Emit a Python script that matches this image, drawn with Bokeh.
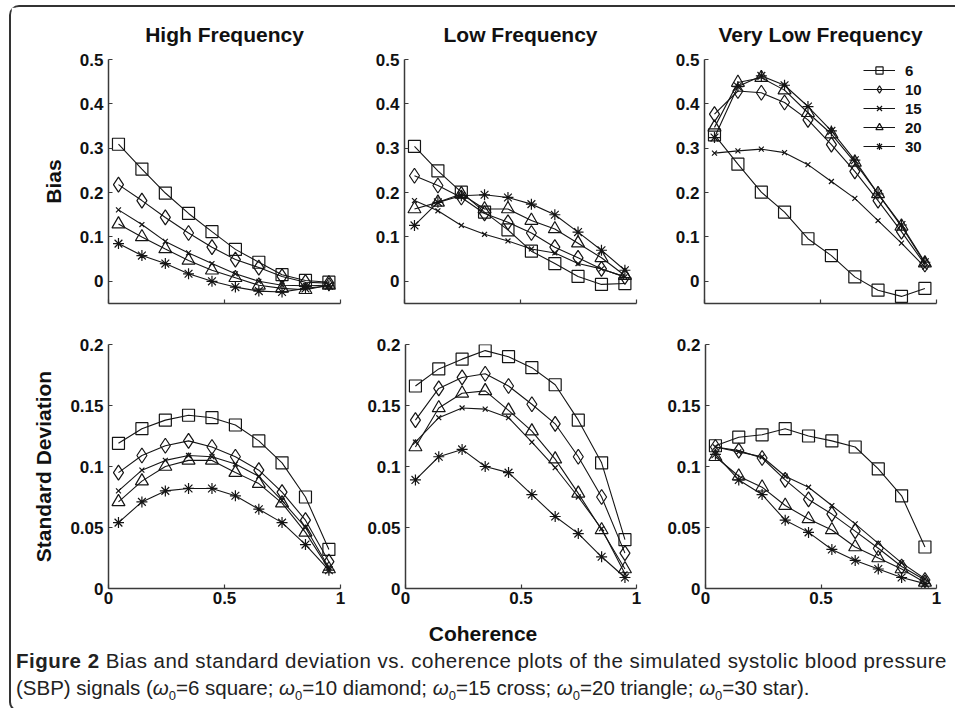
from bokeh.plotting import figure
from bokeh.models import FixedTicker, Div, Legend, LegendItem, Range1d
from bokeh.layouts import column, row
from bokeh.embed import file_html
from bokeh.resources import INLINE

# ---------------- data ----------------
coherence = [0.043, 0.144, 0.245, 0.345, 0.446, 0.547, 0.648, 0.748, 0.849, 0.95]
omegas = [6, 10, 15, 20, 30]
markers = ["square", "diamond", "x", "triangle", "asterisk"]

panel_titles = ["High Frequency", "Low Frequency", "Very Low Frequency"]
row_labels = ["Bias", "Standard Deviation"]
x_label = "Coherence"

x_ticks = [0, 0.5, 1]
x_tick_labels = ["0", "0.5", "1"]
bias_ticks = [0, 0.1, 0.2, 0.3, 0.4, 0.5]
bias_tick_labels = ["0", "0.1", "0.2", "0.3", "0.4", "0.5"]
sd_ticks = [0, 0.05, 0.1, 0.15, 0.2]
sd_tick_labels = ["0", "0.05", "0.1", "0.15", "0.2"]

hf_bias = {
    6:  [0.309, 0.253, 0.199, 0.153, 0.112, 0.072, 0.043, 0.015, 0.002, -0.002],
    10: [0.218, 0.182, 0.144, 0.109, 0.077, 0.049, 0.031, 0.011, -0.002, -0.004],
    15: [0.161, 0.128, 0.090, 0.064, 0.040, 0.017, 0.000, -0.009, -0.010, -0.009],
    20: [0.129, 0.100, 0.073, 0.047, 0.025, 0.008, -0.009, -0.016, -0.019, -0.009],
    30: [0.085, 0.058, 0.040, 0.017, 0.000, -0.013, -0.022, -0.024, -0.016, -0.010],
}
lf_bias = {
    6:  [0.304, 0.249, 0.201, 0.156, 0.116, 0.068, 0.040, 0.011, -0.007, -0.005],
    10: [0.238, 0.216, 0.189, 0.153, 0.133, 0.109, 0.077, 0.053, 0.028, 0.010],
    15: [0.182, 0.159, 0.126, 0.106, 0.091, 0.073, 0.064, 0.040, 0.028, 0.010],
    20: [0.163, 0.178, 0.197, 0.163, 0.163, 0.137, 0.118, 0.086, 0.053, 0.013],
    30: [0.126, 0.178, 0.193, 0.195, 0.189, 0.174, 0.150, 0.111, 0.070, 0.025],
}
vlf_bias = {
    6:  [0.330, 0.264, 0.201, 0.156, 0.096, 0.058, 0.010, -0.020, -0.034, -0.016],
    10: [0.377, 0.429, 0.425, 0.403, 0.364, 0.308, 0.248, 0.182, 0.112, 0.038],
    15: [0.289, 0.294, 0.298, 0.290, 0.263, 0.225, 0.187, 0.137, 0.086, 0.032],
    20: [0.347, 0.448, 0.459, 0.431, 0.380, 0.332, 0.268, 0.197, 0.124, 0.041],
    30: [0.324, 0.439, 0.463, 0.442, 0.394, 0.339, 0.273, 0.197, 0.127, 0.043],
}
hf_sd = {
    6:  [0.119, 0.131, 0.138, 0.142, 0.140, 0.134, 0.121, 0.103, 0.075, 0.032],
    10: [0.095, 0.109, 0.117, 0.121, 0.116, 0.108, 0.097, 0.079, 0.056, 0.022],
    15: [0.080, 0.097, 0.105, 0.109, 0.108, 0.102, 0.092, 0.072, 0.050, 0.017],
    20: [0.071, 0.088, 0.100, 0.105, 0.105, 0.095, 0.086, 0.070, 0.046, 0.016],
    30: [0.054, 0.071, 0.080, 0.082, 0.082, 0.076, 0.065, 0.054, 0.036, 0.015],
}
lf_sd = {
    6:  [0.166, 0.180, 0.188, 0.195, 0.190, 0.181, 0.167, 0.138, 0.103, 0.040],
    10: [0.138, 0.164, 0.173, 0.176, 0.166, 0.151, 0.135, 0.108, 0.075, 0.029],
    15: [0.120, 0.140, 0.148, 0.147, 0.140, 0.120, 0.099, 0.075, 0.049, 0.012],
    20: [0.116, 0.148, 0.160, 0.162, 0.146, 0.129, 0.106, 0.078, 0.048, 0.016],
    30: [0.089, 0.108, 0.114, 0.100, 0.095, 0.077, 0.059, 0.045, 0.026, 0.009],
}
vlf_sd = {
    6:  [0.117, 0.124, 0.126, 0.131, 0.125, 0.121, 0.116, 0.098, 0.076, 0.034],
    10: [0.116, 0.113, 0.107, 0.089, 0.073, 0.061, 0.047, 0.033, 0.018, 0.007],
    15: [0.116, 0.112, 0.108, 0.092, 0.083, 0.068, 0.053, 0.037, 0.021, 0.008],
    20: [0.108, 0.092, 0.083, 0.068, 0.057, 0.048, 0.034, 0.025, 0.016, 0.005],
    30: [0.110, 0.089, 0.077, 0.056, 0.046, 0.032, 0.023, 0.016, 0.009, 0.004],
}

# ---------------- style ----------------
FONT = "Liberation Sans"
INK = "#151515"
AXIS = "#3a3a3a"
marker_sizes = {"square": 12, "diamond": 15, "x": 7, "triangle": 13, "asterisk": 11}


def make_panel(data, yr, yticks, ylabels, width, height, left, right, top, bottom,
               title=None, ylabel=None, show_xlabels=False, legend=False):
    p = figure(width=width, height=height, x_range=Range1d(0, 1), y_range=Range1d(*yr),
               output_backend="svg", toolbar_location=None,
               min_border_left=left, min_border_right=right,
               min_border_top=top, min_border_bottom=bottom)
    p.outline_line_color = None
    p.grid.visible = False
    p.background_fill_color = "white"
    p.border_fill_color = "white"

    if title:
        p.title.text = title
        p.title.align = "center"
        p.title.text_font = FONT
        p.title.text_font_size = "21px"
        p.title.text_font_style = "bold"
        p.title.text_color = "#111111"
        p.title.standoff = 27

    p.xaxis.ticker = FixedTicker(ticks=x_ticks)
    p.yaxis.ticker = FixedTicker(ticks=yticks)
    p.yaxis.major_label_overrides = dict(zip(yticks, ylabels))
    if show_xlabels:
        p.xaxis.major_label_overrides = dict(zip(x_ticks, x_tick_labels))
    else:
        p.xaxis.major_label_overrides = dict(zip(x_ticks, ["", "", ""]))
    for ax in (p.xaxis[0], p.yaxis[0]):
        ax.axis_line_color = AXIS
        ax.axis_line_width = 1.5
        ax.major_tick_line_color = AXIS
        ax.major_tick_line_width = 1.2
        ax.major_tick_in = 4
        ax.major_tick_out = 0
        ax.minor_tick_line_color = None
        ax.major_label_text_font = FONT
        ax.major_label_text_font_size = "17px"
        ax.major_label_text_font_style = "bold"
        ax.major_label_text_color = "#111111"
        ax.major_label_standoff = 5
    p.xaxis.major_label_standoff = 3
    if ylabel:
        p.yaxis.axis_label = ylabel
        p.yaxis.axis_label_text_font = FONT
        p.yaxis.axis_label_text_font_size = "21px"
        p.yaxis.axis_label_text_font_style = "bold"
        p.yaxis.axis_label_text_color = "#111111"
        p.yaxis.axis_label_standoff = 12

    items = []
    for om, mk in zip(omegas, markers):
        ys = data[om]
        ln = p.line(coherence, ys, line_color=INK, line_width=1.1)
        sc = p.scatter(coherence, ys, marker=mk, size=marker_sizes[mk],
                       fill_color=None, line_color=INK, line_width=1.2)
        items.append(LegendItem(label=str(om), renderers=[ln, sc]))
    if legend:
        lg = Legend(items=items, location=(159, 148), padding=0, margin=0,
                    border_line_color=None, background_fill_alpha=0,
                    glyph_width=32, glyph_height=18, label_height=18,
                    label_standoff=10, spacing=1,
                    label_text_font=FONT, label_text_font_size="15px",
                    label_text_font_style="bold", label_text_color="#111111")
        p.add_layout(lg)
    return p


TOP_H, BOT_H = 311, 294
W1, W2, W3 = 353, 300, 281

f1 = make_panel(hf_bias, (-0.05, 0.5), bias_ticks, bias_tick_labels, W1, TOP_H, 97, 24, 51, 15,
                title=panel_titles[0], ylabel=row_labels[0])
f2 = make_panel(lf_bias, (-0.05, 0.5), bias_ticks, bias_tick_labels, W2, TOP_H, 40, 28, 51, 15,
                title=panel_titles[1])
f3 = make_panel(vlf_bias, (-0.05, 0.5), bias_ticks, bias_tick_labels, W3, TOP_H, 40, 9, 51, 15,
                title=panel_titles[2], legend=True)
f4 = make_panel(hf_sd, (0, 0.2), sd_ticks, sd_tick_labels, W1, BOT_H, 97, 24, 26, 24,
                ylabel=row_labels[1], show_xlabels=True)
f5 = make_panel(lf_sd, (0, 0.2), sd_ticks, sd_tick_labels, W2, BOT_H, 40, 28, 26, 24,
                show_xlabels=True)
f6 = make_panel(vlf_sd, (0, 0.2), sd_ticks, sd_tick_labels, W3, BOT_H, 40, 9, 26, 24,
                show_xlabels=True)

SUB = "<sub style=\"font-size:13px;\">0</sub>"
caption_html = (
    "<div style=\"width:934px;\">"
    "<div style=\"text-align:center;font-family:'Liberation Sans',Arial,sans-serif;"
    "font-weight:bold;font-size:21px;line-height:26px;padding-top:4px;color:#111;\">" + x_label + "</div>"
    "<div style=\"font-family:'Liberation Sans',Arial,sans-serif;font-size:20.5px;"
    "line-height:27px;color:#222;white-space:nowrap;\">"
    "<div style=\"letter-spacing:0.47px;\">"
    "<b>Figure 2</b> Bias and standard deviation vs. coherence plots of the simulated systolic blood pressure</div>"
    "<div>"
    "(SBP) signals (<i>&omega;</i>" + SUB + "=6 square; "
    "<i>&omega;</i>" + SUB + "=10 diamond; "
    "<i>&omega;</i>" + SUB + "=15 cross; "
    "<i>&omega;</i>" + SUB + "=20 triangle; "
    "<i>&omega;</i>" + SUB + "=30 star).</div>"
    "</div></div>"
)
caption = Div(text=caption_html, width=934, height=88)

layout = column(row(f1, f2, f3), row(f4, f5, f6), caption,
                margin=(5, 0, 0, 9),
                styles={"border-left": "2px solid #333", "border-top": "2px solid #333",
                        "border-bottom": "2px solid #333",
                        "border-top-left-radius": "10px", "border-bottom-left-radius": "10px"})

open("out.html", "w").write(file_html(layout, INLINE))
